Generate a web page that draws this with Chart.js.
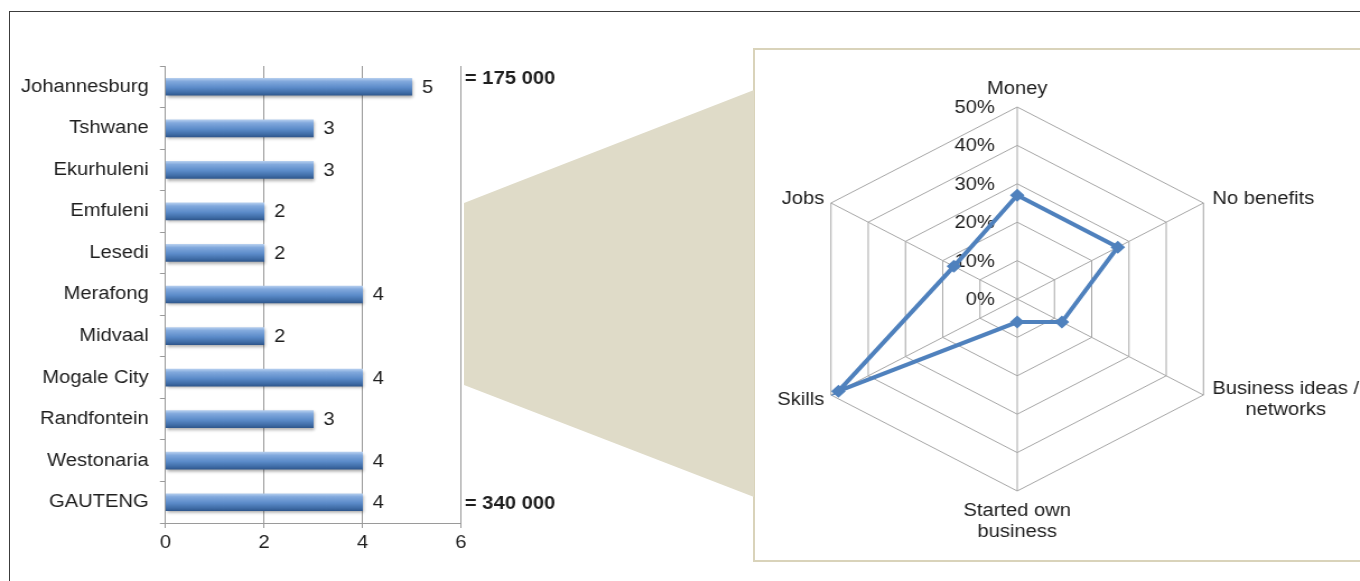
<!DOCTYPE html>
<html>
<head>
<meta charset="utf-8">
<script src="https://cdn.jsdelivr.net/npm/chart.js@4.4.1/dist/chart.umd.min.js"></script>
<style>
  html, body { margin: 0; padding: 0; background: #fff; }
  body { width: 1360px; height: 581px; position: relative; overflow: hidden; }
  .outer { position: absolute; left: 9px; top: 11px; width: 1400px; height: 620px;
           border-top: 1px solid #3c3c3c; border-left: 1px solid #3c3c3c; }
  .zoomFrame { position: absolute; left: 753px; top: 48px; width: 700px; height: 510px;
               border: 2px solid #d9d3ba; background: #fff; }
  .wedge { position: absolute; left: 0; top: 0; }
  .stretch { position: absolute; transform-origin: 0 0; }
</style>
</head>
<body>
<div class="outer"></div>
<div class="zoomFrame"></div>
<svg class="wedge" width="1360" height="581">
  <polygon points="464,203 754,90 754,497 464,385" fill="#dfdbc8"/>
</svg>
<div class="stretch" id="barBox"><canvas id="barChart"></canvas></div>
<div class="stretch" id="radarBox"><canvas id="radarChart"></canvas></div>

<script>
// district scores (left) and reported benefits (right)
const districts = ['Johannesburg', 'Tshwane', 'Ekurhuleni', 'Emfuleni', 'Lesedi', 'Merafong',
    'Midvaal', 'Mogale City', 'Randfontein', 'Westonaria', 'GAUTENG'];
const districtScores = [5, 3, 3, 2, 2, 4, 2, 4, 3, 4, 4];
const scoreMax = 6;
const scoreStep = 2;
const totalNotes = ['= 175 000', '= 340 000'];

const benefitLabels = ['Money', 'No benefits', ['Business ideas /', 'networks'],
    ['Started own', 'business'], 'Skills', 'Jobs'];
const benefitShares = [27, 27, 12, 6, 48, 17];
const shareTicks = [0, 10, 20, 30, 40, 50];

const SX = 1.12;          // the whole figure is a bit wide
const FONT = "'Liberation Sans', Arial, sans-serif";
const INK = '#1e1e1e';
const GRID = '#9a9a9a';

Chart.defaults.font.family = FONT;
Chart.defaults.font.size = 18;
Chart.defaults.color = INK;
Chart.defaults.animation = false;

const place = (id, left, top, w, h) => {
    const el = document.getElementById(id);
    el.style.left = left + 'px';
    el.style.top = top + 'px';
    el.style.width = w + 'px';
    el.style.height = h + 'px';
    el.style.transform = 'scaleX(' + SX + ')';
};

// ---- bar chart ----
const BAR_W = 520;
place('barBox', 0, 0, BAR_W, 581);

const barFill = (c) => {
    const y = c.chart.scales.y;
    if (c.type !== 'data' || !y) return '#4f81bd';
    const mid = y.getPixelForValue(c.dataIndex);
    if (!isFinite(mid)) return '#4f81bd';
    const g = c.chart.ctx.createLinearGradient(0, mid - 8.5, 0, mid + 8.5);
    g.addColorStop(0, '#b3cdee');
    g.addColorStop(0.18, '#82a9dd');
    g.addColorStop(0.55, '#5b8bc9');
    g.addColorStop(0.85, '#3f6ca6');
    g.addColorStop(1, '#30588e');
    return g;
};

const barExtras = {
    id: 'barExtras',
    beforeDatasetsDraw(chart) {
        const ctx = chart.ctx;
        ctx.save();
        ctx.shadowColor = 'rgba(0,0,0,0.35)';
        ctx.shadowOffsetY = 2;
        ctx.shadowOffsetX = 1;
        ctx.shadowBlur = 3;
    },
    afterDatasetsDraw(chart) {
        const ctx = chart.ctx;
        ctx.restore();
        const meta = chart.getDatasetMeta(0);
        ctx.save();
        ctx.font = '18px ' + FONT;
        ctx.fillStyle = INK;
        ctx.textBaseline = 'middle';
        ctx.textAlign = 'left';
        meta.data.forEach((bar, i) => {
            ctx.fillText(String(districtScores[i]), bar.x + 9, bar.y + 1);
        });
        // totals next to the first and last rows
        const y = chart.scales.y;
        const right = chart.chartArea.right + 3.5;
        ctx.font = 'bold 18px ' + FONT;
        ctx.fillText(totalNotes[0], right, y.getPixelForValue(0) - 8);
        ctx.fillText(totalNotes[1], right, y.getPixelForValue(districts.length - 1) + 2);
        ctx.restore();
    }
};

new Chart(document.getElementById('barChart'), {
    type: 'bar',
    data: {
        labels: districts,
        datasets: [{
            data: districtScores,
            backgroundColor: barFill,
            borderWidth: 0,
            barThickness: 17
        }]
    },
    options: {
        indexAxis: 'y',
        responsive: true,
        maintainAspectRatio: false,
        layout: { padding: { top: 66, bottom: 18, left: 0, right: BAR_W - 461 / SX } },
        plugins: { legend: { display: false }, tooltip: { enabled: false } },
        scales: {
            x: {
                min: 0,
                max: scoreMax,
                ticks: { stepSize: scoreStep, padding: 4, color: INK },
                grid: { color: GRID, tickLength: 5, lineWidth: 1 },
                border: { color: GRID },
                afterFit: (s) => { s.height = 40; }
            },
            y: {
                ticks: { padding: 10, color: INK },
                grid: { drawOnChartArea: false, color: GRID, tickLength: 5 },
                border: { color: GRID },
                afterFit: (s) => { s.width = 165.5 / SX; }
            }
        }
    },
    plugins: [barExtras]
});

// ---- radar chart ----
const RADAR_W = 620, RADAR_H = 504;
place('radarBox', 1017.5 - SX * RADAR_W / 2, 47, RADAR_W, RADAR_H);

const radarText = {
    id: 'radarText',
    beforeDatasetsDraw(chart) {
        const r = chart.scales.r;
        const ctx = chart.ctx;
        ctx.save();
        ctx.font = '18px ' + FONT;
        ctx.fillStyle = INK;
        ctx.textAlign = 'right';
        ctx.textBaseline = 'middle';
        shareTicks.forEach((v) => {
            ctx.fillText(v + '%', r.xCenter - 20, r.yCenter - r.getDistanceFromCenterForValue(v) + 1);
        });
        ctx.restore();
    },
    afterDraw(chart) {
        const r = chart.scales.r;
        const ctx = chart.ctx;
        const lh = 21;
        ctx.save();
        ctx.font = '18px ' + FONT;
        ctx.fillStyle = INK;
        ctx.textBaseline = 'middle';
        ctx.textAlign = 'center';
        benefitLabels.forEach((lab, i) => {
            const lines = Array.isArray(lab) ? lab : [lab];
            const p = r.getPointPosition(i, r.drawingArea);
            const w = Math.max(...lines.map((t) => ctx.measureText(t).width));
            const dx = p.x - r.xCenter;
            const dy = p.y - r.yCenter;
            let cx, y0;
            if (Math.abs(dx) < 1) {
                cx = p.x;
                y0 = dy < 0 ? p.y - 18 - (lines.length - 1) * lh : p.y + 20;
            } else {
                cx = dx > 0 ? p.x + 8 + w / 2 : p.x - 6 - w / 2;
                y0 = dy < 0 ? p.y - 4 : p.y + 5 - (lines.length - 1) * lh / 2;
                if (dy > 0 && lines.length > 1) y0 = p.y - 6;
            }
            lines.forEach((t, k) => ctx.fillText(t, cx, y0 + k * lh));
        });
        ctx.restore();
    }
};

new Chart(document.getElementById('radarChart'), {
    type: 'radar',
    data: {
        labels: benefitLabels,
        datasets: [{
            data: benefitShares,
            borderColor: '#4f81bd',
            backgroundColor: '#4f81bd',
            borderWidth: 4,
            fill: false,
            pointStyle: 'rectRot',
            pointRadius: 6.5,
            pointBorderWidth: 0,
            pointBackgroundColor: '#4f81bd'
        }]
    },
    options: {
        responsive: true,
        maintainAspectRatio: false,
        layout: { padding: { top: 60, bottom: 60, left: 0, right: 0 } },
        plugins: { legend: { display: false }, tooltip: { enabled: false } },
        scales: {
            r: {
                min: 0,
                max: 50,
                ticks: { display: false, stepSize: 10 },
                pointLabels: { display: false },
                grid: { color: '#a6a6a6', lineWidth: 1 },
                angleLines: { color: '#a6a6a6', lineWidth: 1 }
            }
        }
    },
    plugins: [radarText]
});
</script>
</body>
</html>
